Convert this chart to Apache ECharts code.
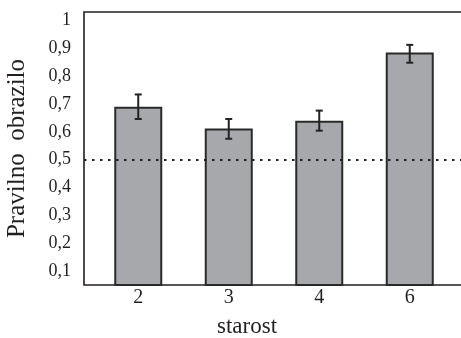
<!DOCTYPE html>
<html><head><meta charset="utf-8">
<script src="https://cdn.jsdelivr.net/npm/echarts@6/dist/echarts.min.js"></script>
<style>html,body{margin:0;padding:0;background:#fff}#c{width:461px;height:338px}</style>
</head><body><div id="c"></div>
<script>
var categories = ['2', '3', '4', '6'];
var values = [0.69, 0.612, 0.64, 0.885];
var errLow = [0.646, 0.575, 0.604, 0.848];
var errHigh = [0.734, 0.646, 0.676, 0.912];
var refLine = 0.5;
var yMin = 0.05, yMax = 1.03;

var chart = echarts.init(document.getElementById('c'), null, {renderer: 'canvas'});
var FONT = 'Liberation Serif';
var ink = '#231f20';
function fmt(v) {
  var r = Math.round(v * 100);
  if (r % 10 !== 0) return '';
  if (r === 100) return '1';
  return (r / 100).toFixed(1).replace('.', ',');
}
var errData = categories.map(function (c, i) { return [i, errLow[i], errHigh[i]]; });
chart.setOption({
  animation: false,
  grid: [
    {left: 84, right: -3, top: 12, bottom: 53, outerBoundsMode: 'none', containLabel: false,
     show: true, borderColor: ink, borderWidth: 1.6, backgroundColor: 'transparent'},
    {left: 93, right: 6, top: 12, bottom: 53, outerBoundsMode: 'none', containLabel: false}
  ],
  xAxis: [
    {gridIndex: 0, type: 'value', min: 0, max: 1, show: false},
    {gridIndex: 1, type: 'category', data: categories,
     axisLine: {show: false}, axisTick: {show: false},
     axisLabel: {fontFamily: FONT, fontSize: 20, color: ink, margin: 3},
     name: 'starost', nameLocation: 'middle', nameGap: 30,
     nameTextStyle: {fontFamily: FONT, fontSize: 23, color: ink, padding: [0, 54, 0, 0]}}
  ],
  yAxis: [
    {gridIndex: 0, type: 'value', min: yMin, max: yMax, interval: 0.05,
     axisLine: {show: false}, axisTick: {show: false}, splitLine: {show: false},
     axisLabel: {fontFamily: FONT, fontSize: 18, color: ink, margin: 13, formatter: fmt, showMaxLabel: false},
     name: 'Pravilno  obrazilo', nameLocation: 'middle', nameGap: 54,
     nameTextStyle: {fontFamily: FONT, fontSize: 25, color: ink}},
    {gridIndex: 1, type: 'value', min: yMin, max: yMax, show: false}
  ],
  series: [
    {type: 'line', xAxisIndex: 0, yAxisIndex: 0, data: [], z: 1,
     markLine: {silent: true, symbol: 'none', label: {show: false},
       lineStyle: {color: ink, width: 2, type: [2.5, 5.5]},
       data: [{yAxis: refLine}]}},
    {type: 'bar', xAxisIndex: 1, yAxisIndex: 1, data: values, barWidth: 48, z: 2,
     itemStyle: {color: '#a7a8ab', borderColor: '#2a2a2a', borderWidth: 2}},
    {type: 'custom', xAxisIndex: 1, yAxisIndex: 1, data: errData, z: 3,
     renderItem: function (params, api) {
       var x = api.value(0);
       var lo = api.coord([x, api.value(1)]);
       var hi = api.coord([x, api.value(2)]);
       var w = 3.5;
       var st = {stroke: '#222', lineWidth: 2};
       return {type: 'group', children: [
         {type: 'line', shape: {x1: lo[0], y1: lo[1], x2: hi[0], y2: hi[1]}, style: st},
         {type: 'line', shape: {x1: lo[0] - w, y1: lo[1], x2: lo[0] + w, y2: lo[1]}, style: st},
         {type: 'line', shape: {x1: hi[0] - w, y1: hi[1], x2: hi[0] + w, y2: hi[1]}, style: st}
       ]};
     }}
  ]
});
</script></body></html>
